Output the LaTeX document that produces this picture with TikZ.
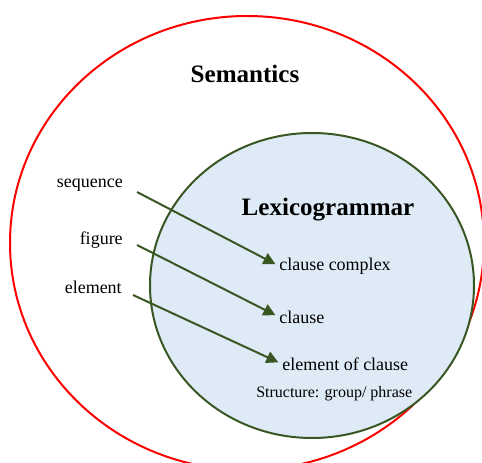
\documentclass[tikz,border=0pt]{standalone}
\usepackage{fontspec}
\setmainfont{Liberation Serif}
\usetikzlibrary{arrows.meta}
\definecolor{lexgreen}{RGB}{56,87,35}
\definecolor{lexblue}{RGB}{222,235,247}
\tikzstyle{term}  = [inner sep=0, font=\fontsize{13.5}{15}\selectfont]
\tikzstyle{title} = [inner sep=0, font=\fontsize{18.8}{21}\selectfont\bfseries]
\tikzstyle{link}  = [draw=lexgreen, line width=1.5pt, shorten >=3pt,
                     -{Triangle[length=9pt,width=9pt]}]

\begin{document}
\begin{tikzpicture}[x=0.75pt, y=-0.75pt]
    \clip (0,0) rectangle (482,463);

    % Semantics stratum
    \draw[red, line width=1.5pt] (247,243) ellipse [x radius=237, y radius=227];
    \node(sem)[title] at (245,74) {Semantics};

    % Lexicogrammar stratum
    \draw[lexgreen, fill=lexblue, line width=1.5pt] (312,285.5) ellipse [x radius=162, y radius=152.5];
    \node(lex)[title] at (328,210) {Lexicogrammar};

    % semantic units
    \node(seq)[term, anchor=east] at (123,185) {sequence};
    \node(fig)[term, anchor=east] at (123,240) {figure};
    \node(elt)[term, anchor=east] at (122,287) {element};

    % grammatical units
    \node(cc)[term, anchor=west] at (279,266) {clause complex};
    \node(cl)[term, anchor=west] at (279,317) {clause};
    \node(ec)[term, anchor=west] at (282,364) {element of clause};
    \node(str)[term, anchor=west, font=\fontsize{12}{14}\selectfont] at (256,394) {Structure: group/ phrase};

    \coordinate(seq-out) at (137,192);
    \coordinate(fig-out) at (137,245);
    \coordinate(elt-out) at (133,295);

    \draw[link](seq-out)--(cc.west);
    \draw[link](fig-out)--(cl.west);
    \draw[link](elt-out)--(ec.west);

\end{tikzpicture}
\end{document}
